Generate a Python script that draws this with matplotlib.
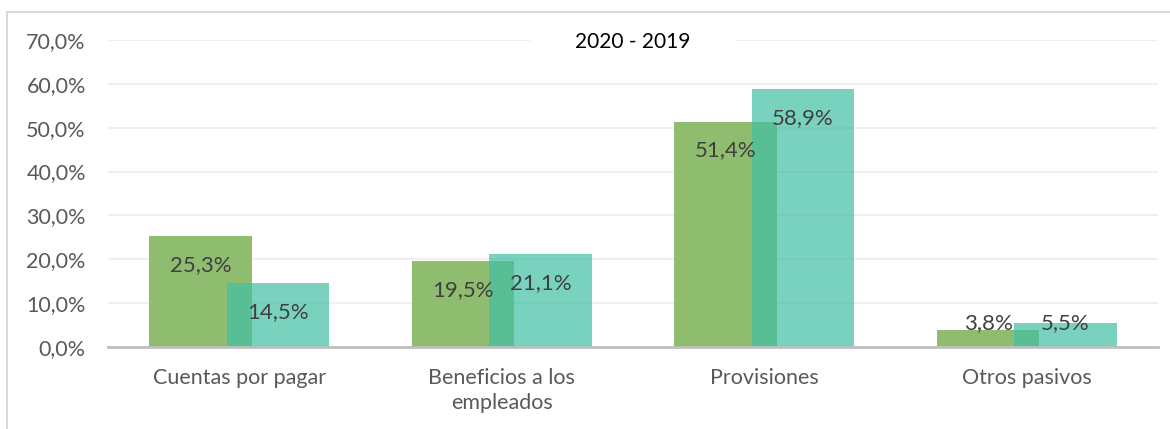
import numpy as np
import matplotlib.pyplot as plt
from matplotlib.lines import Line2D
from matplotlib.patches import Rectangle

categories = ['Cuentas por pagar', 'Beneficios a los\nempleados', 'Provisiones', 'Otros pasivos']
vals_2020 = [25.3, 19.5, 51.4, 3.8]
vals_2019 = [14.5, 21.1, 58.9, 5.5]

plt.rcParams['font.family'] = ['Lato', 'DejaVu Sans']

fig = plt.figure(figsize=(11.7, 4.29), dpi=100)
ax = fig.add_axes([108 / 1170, 1 - 347 / 429, 1050 / 1170, 307 / 429])

x = np.arange(len(categories))
w = 0.39
off = 0.147
b1 = ax.bar(x - off, vals_2020, w, color='#8FBD70', zorder=2)
b2 = ax.bar(x + off, vals_2019, w, color=(65 / 255, 191 / 255, 163 / 255), alpha=0.7, zorder=3)

# labels near the inside top of each bar
for bars, vals in ((b1, vals_2020), (b2, vals_2019)):
    for bar, v in zip(bars, vals):
        y = max(v - 6.6, 5.5)
        ax.text(bar.get_x() + bar.get_width() / 2, y, f'{v:.1f}%'.replace('.', ','),
                ha='center', va='center', fontsize=16, color='#404040', zorder=5)

ax.set_xlim(-0.5, 3.5)
ax.set_ylim(0, 70)
ax.set_yticks(np.arange(0, 71, 10))
ax.set_yticklabels([f'{t:.1f}%'.replace('.', ',') for t in np.arange(0, 71, 10)])
ax.set_xticks(x)
ax.set_xticklabels(categories, linespacing=1.3)
ax.tick_params(axis='y', length=0, pad=16, labelsize=15.5, labelcolor='#595959')
ax.tick_params(axis='x', length=0, pad=15, labelsize=15.5, labelcolor='#595959')

ax.grid(axis='y', color='#EFEFEF', linewidth=1.5, zorder=0)
ax.set_axisbelow(True)
for s in ['top', 'right', 'left']:
    ax.spines[s].set_visible(False)
ax.spines['bottom'].set_color('#BFBFBF')
ax.spines['bottom'].set_linewidth(2)
ax.spines['bottom'].set_zorder(4)

# title sits in a white box that hides the top gridline
ax.add_patch(Rectangle((1.108, 65.5), 0.781, 7, facecolor='white', edgecolor='none',
                       zorder=6, clip_on=False))
ax.text(1.5, 69.6, '2020 - 2019', ha='center', va='center', fontsize=15, color='black', zorder=7)

# outer chart frame
fig.add_artist(Line2D([6.5 / 1170, 6.5 / 1170], [0, 1 - 11.5 / 429], color='#D9D9D9', linewidth=1.5))
fig.add_artist(Line2D([6.5 / 1170, 1], [1 - 11.5 / 429, 1 - 11.5 / 429], color='#D9D9D9', linewidth=1.5))

fig.savefig('out.png', dpi=100, facecolor='white')
